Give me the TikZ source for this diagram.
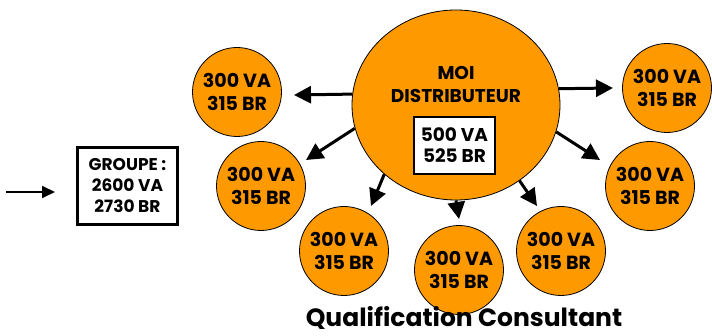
\documentclass[tikz,border=0pt]{standalone}
\usepackage{fontspec}
\setmainfont{Poppins}
\usetikzlibrary{arrows.meta,shapes.geometric}
\definecolor{orng}{RGB}{255,153,0}
\begin{document}
\begin{tikzpicture}[x=1pt,y=-1pt,
  sat/.style={circle,draw=black,line width=0.8pt,fill=orng,minimum size=89pt,inner sep=0pt,
    font=\fontsize{19}{23}\selectfont\bfseries,align=center},
  big/.style={ellipse,draw=black,line width=0.8pt,fill=orng,minimum width=208pt,minimum height=190pt,inner sep=0pt},
  lbl/.style={font=\fontsize{18.5}{23}\selectfont\bfseries,align=center},
  vbox/.style={draw=black,fill=white,line width=1.6pt,align=center,font=\fontsize{18.5}{21}\selectfont\bfseries},
  arr/.style={line width=3pt,-{Triangle[length=17pt,width=17pt]}},
  garr/.style={line width=1.8pt,-{Triangle[length=13pt,width=12pt]}}]
\useasboundingbox (0,0) rectangle (712,336);
% main circle
\node[big] (main) at (456,105) {};
\node[lbl] (moi) at (456,84) {MOI\\DISTRIBUTEUR};
\node[vbox,minimum width=81pt,minimum height=57pt,inner sep=0pt] (mbox) at (454.5,145.5) {500 VA\\525 BR};
% satellites
\node[sat] (c1) at (237,92) {300 VA\\315 BR};
\node[sat] (c2) at (261,186) {300 VA\\315 BR};
\node[sat] (c3) at (344,251) {300 VA\\315 BR};
\node[sat] (c4) at (459,270) {300 VA\\315 BR};
\node[sat] (c5) at (561,251) {300 VA\\315 BR};
\node[sat] (c6) at (650,186) {300 VA\\315 BR};
\node[sat] (c7) at (667,88) {300 VA\\315 BR};
% arrow tips
\coordinate (t1) at (294,95);
\coordinate (t2) at (613,88);
\coordinate (t3) at (306,160);
\coordinate (t4) at (600,160);
\coordinate (t5) at (371,206);
\coordinate (t6) at (459,219);
\coordinate (t7) at (537,206);
\draw[arr] (main.174.5) -- (t1);
\draw[arr] (main.9.3) -- (t2);
\draw[arr] (main.193.6) -- (t3);
\draw[arr] (main.-15.8) -- (t4);
\draw[arr] (main.224.6) -- (t5);
\draw[arr] (main.270) -- (t6);
\draw[arr] (main.310.5) -- (t7);
% group
\node[draw=black,line width=2.2pt,fill=white,minimum width=100pt,minimum height=77pt,inner sep=0pt,
  align=center,font=\fontsize{17}{21}\selectfont\bfseries] (grp) at (127.5,186) {GROUPE :\\2600 VA\\2730 BR};
\coordinate (gin) at (6,192);
\coordinate (gtip) at (55,192);
\draw[garr] (gin) -- (gtip);
% title
\node[font=\fontsize{25}{30}\selectfont\bfseries,anchor=base] (title) at (464,327) {Qualification Consultant};
\end{tikzpicture}
\end{document}
